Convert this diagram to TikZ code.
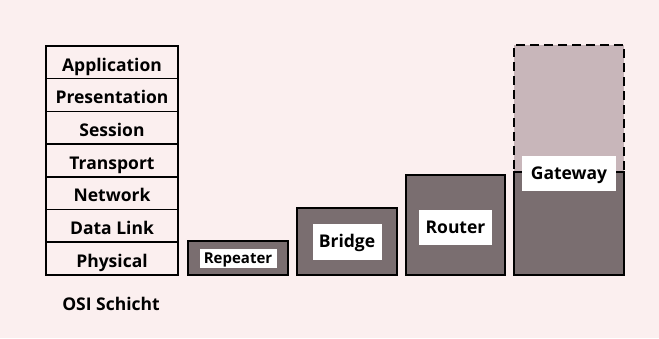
\documentclass[tikz,border=0pt]{standalone}
\usepackage{fontspec}
\setmainfont{Open Sans}
\usetikzlibrary{positioning}
\definecolor{paper}{HTML}{FBEFEF}
\definecolor{darkfill}{HTML}{7A6E70}
\definecolor{lightfill}{HTML}{C8B6BA}

\begin{document}
\begin{tikzpicture}[x=1pt, y=-1pt,
        layer/.style={rectangle, draw, line width=1.5pt, fill=paper, outer sep=0pt, inner sep=0pt,
                      minimum width=132pt, minimum height=32.7pt, text height=17.5pt, text depth=0pt,
                      font=\bfseries\fontsize{17.5}{19}\selectfont},
        device/.style={rectangle, draw, line width=1.8pt, fill=darkfill, outer sep=0pt, inner sep=0pt},
        tag/.style={rectangle, fill=white, inner sep=0pt, text height=12.5pt, text depth=0pt,
                    font=\bfseries\fontsize{17.5}{19}\selectfont}
    ]
        % paper
        \fill[paper] (0,0) rectangle (659,338);
        \useasboundingbox (0,0) rectangle (659,338);

        % OSI stack
        \node[layer, anchor=north west] (app) at (46,46) {Application};
        \node[layer, below=0pt of app] (pres) {Presentation};
        \node[layer, below=0pt of pres] (sess) {Session};
        \node[layer, below=0pt of sess] (trans) {Transport};
        \node[layer, below=0pt of trans] (net) {Network};
        \node[layer, below=0pt of net] (link) {Data Link};
        \node[layer, below=0pt of link] (phys) {Physical};
        \node[text height=12.5pt, text depth=0pt, inner sep=0pt,
              font=\bfseries\fontsize{17.5}{19}\selectfont] (osi) at (111,304) {OSI Schicht};

        % devices
        \node[device, anchor=south west, minimum width=100pt, minimum height=34pt] (rep) at (188,275) {};
        \node[device, anchor=south west, minimum width=100pt, minimum height=67pt] (bri) at (297,275) {};
        \node[device, anchor=south west, minimum width=99pt, minimum height=100pt] (rou) at (406,275) {};
        \node[device, anchor=south west, minimum width=110pt, minimum height=127pt,
              fill=lightfill, dash pattern=on 9pt off 5pt] (gwtop) at (514,172) {};
        \node[device, anchor=south west, minimum width=110pt, minimum height=103pt] (gw) at (514,275) {};

        % labels
        \node[tag, minimum width=77pt, minimum height=19pt, text height=10.7pt,
              font=\bfseries\fontsize{15}{17}\selectfont] (replab) at (rep.center) {Repeater};
        \node[tag, minimum width=69pt, minimum height=36pt] (brilab) at (bri.center) {Bridge};
        \node[tag, minimum width=73pt, minimum height=35pt] (roulab) at ([yshift=-2pt]rou.center) {Router};
        \node[tag, minimum width=94pt, minimum height=35pt] (gwlab) at ([yshift=-1.5pt]gw.north) {Gateway};
\end{tikzpicture}
\end{document}
